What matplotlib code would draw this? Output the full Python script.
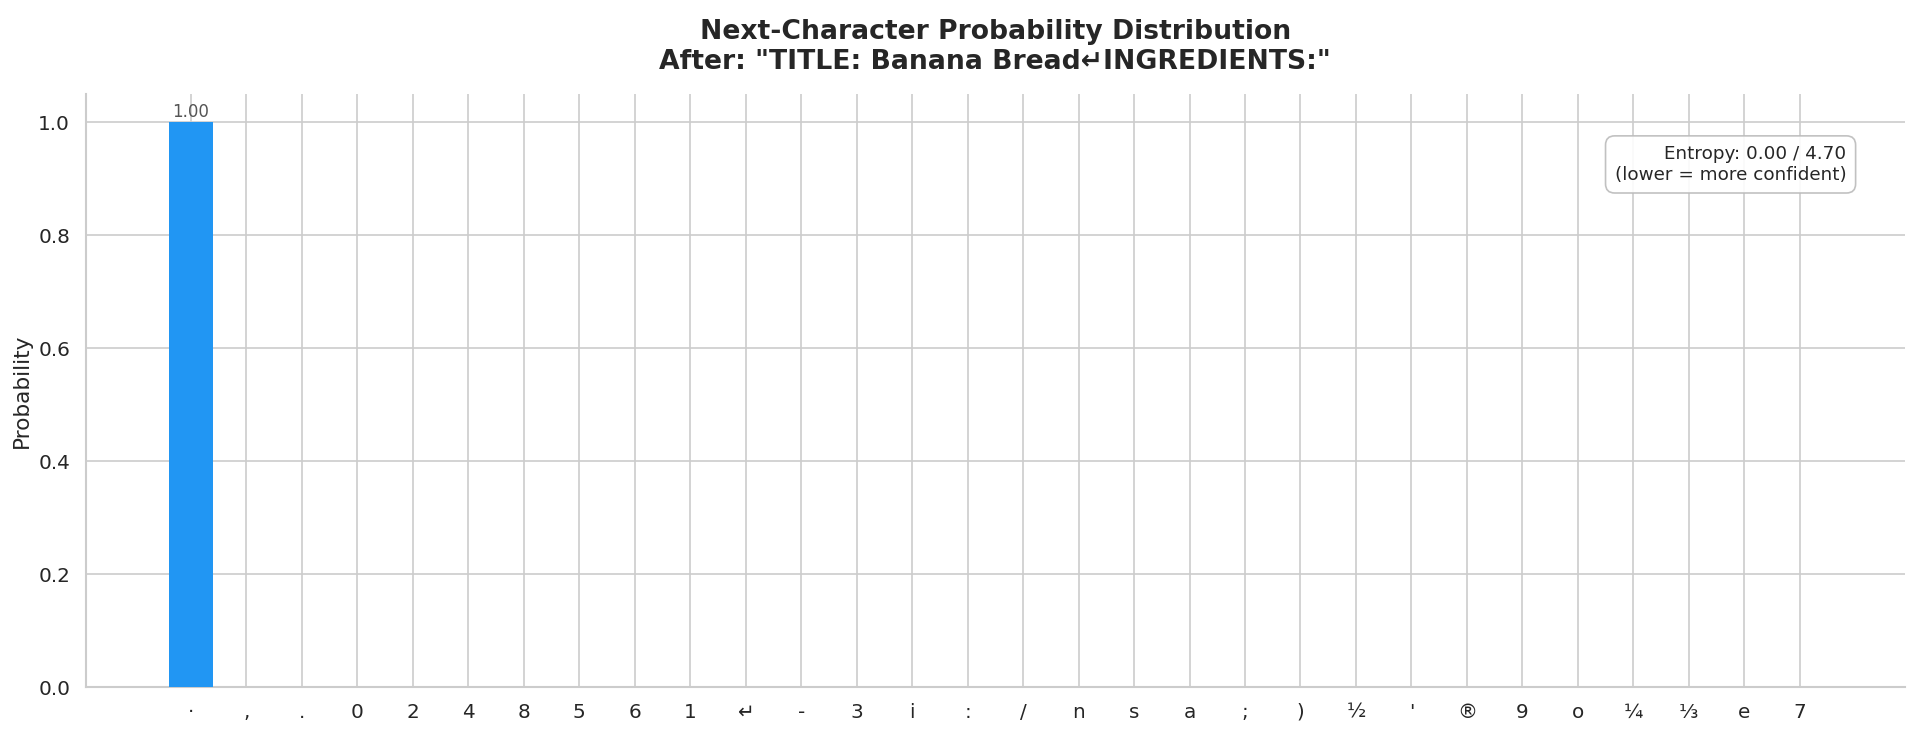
import numpy as np
import matplotlib
matplotlib.use("Agg")
import matplotlib.pyplot as plt
import seaborn as sns

chars = ["·", ",", ".", "0", "2", "4", "8", "5", "6", "1", "↵", "-", "3", "i", ":",
         "/", "n", "s", "a", ";", ")", "½", "'", "®", "9", "o", "¼", "⅓", "e", "7"]
probs = [1.0, 0.0, 0.0, 0.0, 0.0, 0.0, 0.0, 0.0, 0.0, 0.0, 0.0, 0.0, 0.0, 0.0, 0.0,
         0.0, 0.0, 0.0, 0.0, 0.0, 0.0, 0.0, 0.0, 0.0, 0.0, 0.0, 0.0, 0.0, 0.0, 0.0]
entropy = 0.00
max_entropy = 4.70
context = 'TITLE: Banana Bread↵INGREDIENTS:'

sns.set_theme(style="whitegrid")
plt.rcParams['font.family'] = ['DejaVu Sans']

fig, ax = plt.subplots(figsize=(16, 6.075), dpi=120)
plt.subplots_adjust(left=0.0448, right=0.992, bottom=0.0576, top=0.871)

x = np.arange(len(chars))
bars = ax.bar(x, probs, width=0.8, color="#2196F3", linewidth=0, zorder=3)
for b, p in zip(bars, probs):
    if p > 0.01:
        ax.text(b.get_x() + b.get_width() / 2, p + 0.003, f"{p:.2f}",
                ha="center", va="bottom", fontsize=10, color="#555555")

ax.set_xticks(x)
ax.set_xticklabels(chars, fontsize=12)
ax.tick_params(axis="y", labelsize=12)
ax.set_ylabel("Probability", fontsize=13)
ax.set_title("Next-Character Probability Distribution\nAfter: \"" + context + "\"",
             fontsize=16, fontweight="bold", pad=15)

ax.text(0.968, 0.914, f"Entropy: {entropy:.2f} / {max_entropy:.2f}\n(lower = more confident)",
        transform=ax.transAxes, ha="right", va="top", fontsize=11,
        bbox=dict(boxstyle="round,pad=0.5", facecolor="white", edgecolor="#bbbbbb", alpha=0.9))

sns.despine(ax=ax)
for s in ["left", "bottom"]:
    ax.spines[s].set_color("#cccccc")

fig.savefig("out.png", dpi=120)
